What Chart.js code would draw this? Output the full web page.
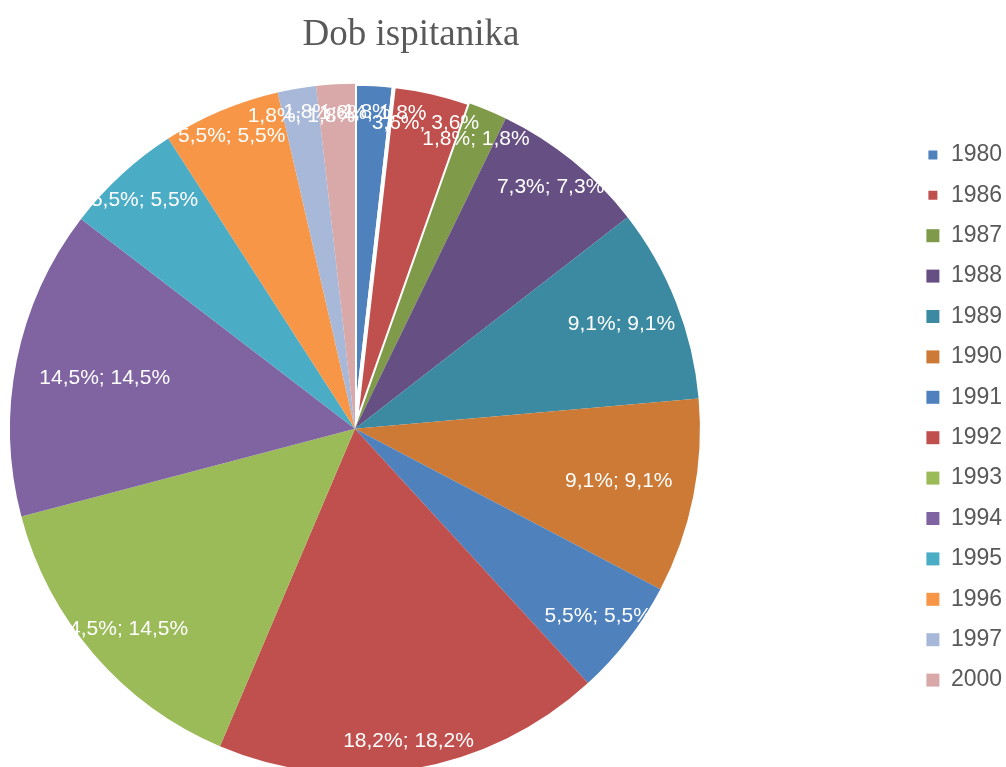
<!DOCTYPE html>
<html>
<head>
<meta charset="utf-8">
<title>Dob ispitanika</title>
<script src="https://cdn.jsdelivr.net/npm/chart.js@4.4.1/dist/chart.umd.min.js"></script>
<style>
	html, body { margin: 0; padding: 0; background: #fff; overflow: hidden; }
	#wrap { width: 1006px; height: 776px; }
</style>
</head>
<body>
<div id="wrap"><canvas id="dobChart" width="1006" height="776"></canvas></div>
<script>
const years = ['1980', '1986', '1987', '1988', '1989', '1990', '1991', '1992', '1993', '1994', '1995', '1996', '1997', '2000'];
const shares = [1.8, 3.6, 1.8, 7.3, 9.1, 9.1, 5.5, 18.2, 14.5, 14.5, 5.5, 5.5, 1.8, 1.8];
const sliceColors = ['#4F81BD', '#C0504D', '#7F9A48', '#664F83', '#3C8AA2', '#CC7A36', '#4F81BD',
	'#C0504D', '#9BBB59', '#8064A2', '#4BACC6', '#F79646', '#A8B8D8', '#D9A8A8'];
const sliceBorders = [4, 4, 0, 0, 0, 0, 0, 0, 0, 0, 0, 0, 0, 0];
// how far out each label sits, as a share of the radius
const labelRadius = [0.915, 0.91, 0.91, 0.9, 0.83, 0.78, 0.89, 0.92, 0.89, 0.74, 0.9, 0.92, 0.92, 0.92];

function fmtPct(v) {
	return v.toFixed(1).replace('.', ',') + '%';
}

// white "value; percent" text on each slice
const sliceLabels = {
	id: 'sliceLabels',
	afterDatasetsDraw(chart) {
		const ctx = chart.ctx;
		const meta = chart.getDatasetMeta(0);
		ctx.save();
		ctx.font = '21px "Liberation Sans", Arial, sans-serif';
		ctx.fillStyle = '#fff';
		ctx.textAlign = 'center';
		ctx.textBaseline = 'middle';
		meta.data.forEach(function(arc, i) {
			const p = arc.getProps(['x', 'y', 'startAngle', 'endAngle', 'outerRadius'], true);
			const mid = (p.startAngle + p.endAngle) / 2;
			const r = p.outerRadius * labelRadius[i];
			const txt = fmtPct(shares[i]) + '; ' + fmtPct(shares[i]);
			ctx.fillText(txt, p.x + Math.cos(mid) * r, p.y + Math.sin(mid) * r);
		});
		ctx.restore();
	}
};

// move legend to the right edge and the title over the middle, like the excel sheet
const placeBoxes = {
	id: 'placeBoxes',
	afterLayout(chart) {
		const lg = chart.legend;
		const dx = 909 - lg.left;
		lg.left += dx;
		lg.right += dx;
		lg.top = 126;
		lg.bottom = 767;
		lg.height = lg.bottom - lg.top;
		const t = chart.titleBlock;
		const tx = 411 - (t.left + t.right) / 2;
		t.left += tx;
		t.right += tx;
	}
};

new Chart(document.getElementById('dobChart').getContext('2d'), {
	type: 'pie',
	data: {
		labels: years,
		datasets: [{
			data: shares,
			backgroundColor: sliceColors,
			borderColor: '#fff',
			borderWidth: sliceBorders
		}]
	},
	options: {
		responsive: false,
		animation: false,
		layout: {
			padding: { left: 8, right: 201, top: 0, bottom: 0 }
		},
		plugins: {
			title: {
				display: true,
				text: 'Dob ispitanika',
				color: '#595959',
				font: { family: '"Liberation Serif", "Times New Roman", serif', size: 37, weight: 'normal' },
				padding: { top: 13, bottom: 24 }
			},
			legend: {
				position: 'right',
				align: 'start',
				labels: {
					color: '#595959',
					font: { family: '"Liberation Sans", Arial, sans-serif', size: 23 },
					boxWidth: 13,
					boxHeight: 13,
					padding: 17.4
				}
			},
			tooltip: { enabled: false }
		}
	},
	plugins: [sliceLabels, placeBoxes]
});
</script>
</body>
</html>
